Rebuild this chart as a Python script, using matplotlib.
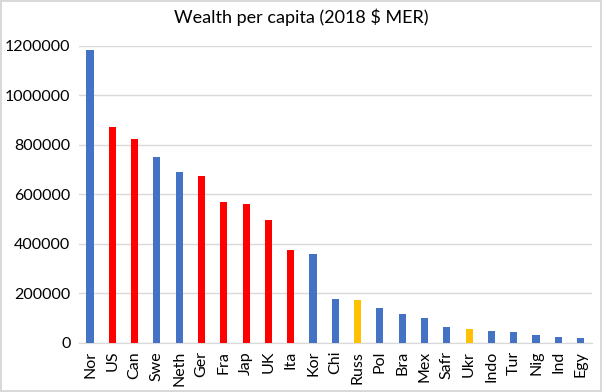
import numpy as np
import matplotlib.pyplot as plt

# Wealth per capita, 2018 $ at market exchange rates
countries = ['Nor', 'US', 'Can', 'Swe', 'Neth', 'Ger', 'Fra', 'Jap', 'UK', 'Ita', 'Kor',
             'Chi', 'Russ', 'Pol', 'Bra', 'Mex', 'Safr', 'Ukr', 'Indo', 'Tur', 'Nig', 'Ind', 'Egy']
wealth = [1185000, 873000, 823000, 750000, 690000, 673000, 567000, 560000, 494000, 376000, 357000,
          175000, 174000, 140000, 117000, 100000, 63000, 55000, 47000, 43000, 30000, 24000, 19000]
group = ['b', 'r', 'r', 'b', 'b', 'r', 'r', 'r', 'r', 'r', 'b',
         'b', 'y', 'b', 'b', 'b', 'b', 'y', 'b', 'b', 'b', 'b', 'b']

palette = {'b': '#4472C4', 'r': '#FF0000', 'y': '#FFC000'}
colors = [palette[g] for g in group]

plt.rcParams['font.family'] = ['Lato', 'DejaVu Sans']

fig = plt.figure(figsize=(6.02, 3.92), dpi=100)
fig.patch.set_edgecolor('#D9D9D9')
fig.patch.set_linewidth(1.5)
ax = fig.add_axes([0.131, 0.126, 0.852, 0.757])

x = np.arange(len(countries))
ax.bar(x, wealth, width=0.32, color=colors, zorder=3)

ax.set_xlim(-0.5, len(countries) - 0.5)
ax.set_ylim(0, 1200000)
ax.set_yticks(np.arange(0, 1200001, 200000))
ax.set_yticklabels([str(v) for v in range(0, 1200001, 200000)], fontsize=11.5)
ax.set_xticks(x)
ax.set_xticklabels(countries, rotation=90, fontsize=11.5)

ax.grid(axis='y', color='#D9D9D9', linewidth=1, zorder=0)
for s in ['top', 'right', 'left']:
    ax.spines[s].set_visible(False)
ax.spines['bottom'].set_color('#D9D9D9')
ax.tick_params(axis='both', length=0, pad=6)

fig.text(0.5, 0.955, 'Wealth per capita (2018 $ MER)', ha='center', va='center', fontsize=13)

fig.savefig('out.png', dpi=100)
